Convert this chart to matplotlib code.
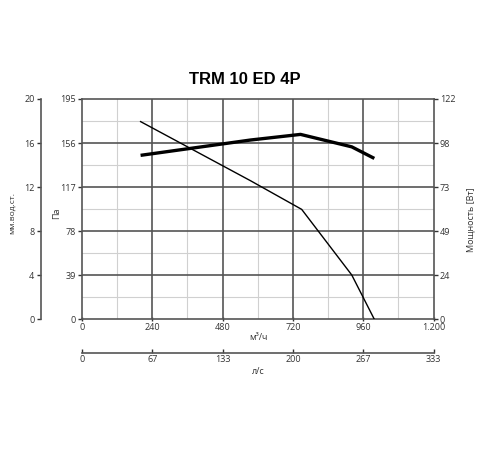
import matplotlib

matplotlib.use("Agg")
import numpy as np
import matplotlib.pyplot as plt

# data
flow_pressure = [200, 575, 750, 921, 998]
pressure = [175, 122.7, 97.3, 39.2, 0]

flow_power = [200, 576, 746, 921, 998]
power = [90.8, 99.3, 102.4, 95.5, 89.1]

x_ticks = [0, 240, 480, 720, 960, 1200]
x_labels = ["0", "240", "480", "720", "960", "1.200"]
ls_labels = ["0", "67", "133", "200", "267", "333"]
pa_ticks = [0, 39, 78, 117, 156, 195]
mm_ticks = [0, 4, 8, 12, 16, 20]
w_labels = ["0", "24", "49", "73", "98", "122"]

title = "TRM 10 ED 4P"

plt.rcParams['font.family'] = ['Open Sans', 'DejaVu Sans']
tick_color = "#333333"
fs = 6.5

fig = plt.figure(figsize=(5, 4.5), dpi=100)
ax = fig.add_axes([82 / 500, 1 - 319.3 / 450, 351.5 / 500, 220.3 / 450])

ax.set_xlim(0, 1200)
ax.set_ylim(0, 195)

# grid
for v in np.arange(120, 1200, 240):
    ax.axvline(v, color="#d0d0d0", lw=0.8, zorder=1)
for v in np.arange(19.5, 195, 39):
    ax.axhline(v, color="#d0d0d0", lw=0.8, zorder=1)
for v in x_ticks[1:-1]:
    ax.axvline(v, color="#555555", lw=1.2, zorder=2)
for v in pa_ticks[1:-1]:
    ax.axhline(v, color="#555555", lw=1.2, zorder=2)

for s in ax.spines.values():
    s.set_color("#555555")
    s.set_linewidth(1.2)

ax.plot(flow_pressure, pressure, color="black", lw=1.0, zorder=5)

ax.set_xticks(x_ticks)
ax.set_xticklabels(x_labels)
ax.set_yticks(pa_ticks)
ax.tick_params(axis="both", labelsize=fs, colors=tick_color, length=3, width=1, pad=1.5)
ax.tick_params(axis="x", direction="inout")

# power axis on the right
axp = ax.twinx()
axp.set_ylim(0, 122)
axp.plot(flow_power, power, color="black", lw=2.4, zorder=6, solid_capstyle="butt")
axp.set_yticks(np.linspace(0, 122, 6))
axp.set_yticklabels(w_labels)
axp.tick_params(axis="y", labelsize=fs, colors=tick_color, length=3, width=1, pad=1.5)
for s in axp.spines.values():
    s.set_visible(False)

# mm water column axis on the far left
axm = ax.twinx()
axm.set_ylim(0, 20)
for k, s in axm.spines.items():
    s.set_visible(k == "left")
axm.spines["left"].set_position(("axes", (40.7 - 82) / 351.5))
axm.spines["left"].set_color("#555555")
axm.spines["left"].set_linewidth(1.2)
axm.yaxis.set_ticks_position("left")
axm.set_yticks(mm_ticks)
axm.tick_params(axis="y", labelsize=fs, colors=tick_color, length=3, width=1, pad=1.5)

# l/s axis below
axl = ax.twiny()
axl.set_xlim(0, 1200)
for k, s in axl.spines.items():
    s.set_visible(k == "bottom")
axl.spines["bottom"].set_position(("axes", (319.3 - 352.5) / 220.3))
axl.spines["bottom"].set_color("#555555")
axl.spines["bottom"].set_linewidth(1.2)
axl.xaxis.set_ticks_position("bottom")
axl.set_xticks(x_ticks)
axl.set_xticklabels(ls_labels)
axl.tick_params(axis="x", labelsize=fs, colors=tick_color, length=3, width=1, direction="in", pad=1.5)

# axis titles
lab = dict(fontsize=fs, color=tick_color, ha="center", va="center")
fig.text(12 / 500, 1 - 213 / 450, "мм.вод.ст.", rotation=90, **dict(lab, fontsize=fs - 0.5))
fig.text(57 / 500, 1 - 213 / 450, "Па", rotation=90, **lab)
fig.text(471 / 500, 1 - 220 / 450, "Мощность [Вт]", rotation=90, **lab)
fig.text(258 / 500, 1 - 338 / 450, "м³/ч", **lab)
fig.text(258 / 500, 1 - 371 / 450, "л/с", **lab)

fig.text(245 / 500, 1 - 79 / 450, title, ha="center", va="center",
         fontsize=12, fontweight="bold", family=["Liberation Sans", "DejaVu Sans"])

fig.savefig("out.png", dpi=100)
